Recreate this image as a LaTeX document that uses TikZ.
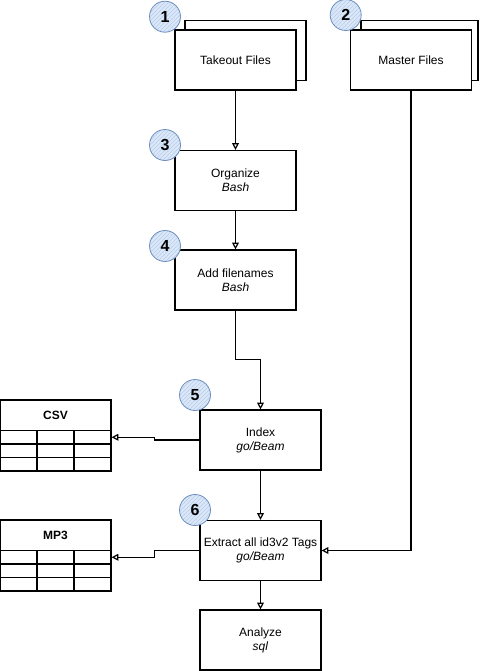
\documentclass[tikz,border=0pt]{standalone}
\usepackage{fontspec}
\setmainfont{Liberation Sans}
\usetikzlibrary{arrows.meta,patterns}
\definecolor{badgefill}{HTML}{DAE8FC}
\definecolor{badgeline}{HTML}{6C8EBF}
\tikzset{
  stepbox/.style={draw,line width=0.9pt,fill=white,minimum width=90.75pt,minimum height=45pt,inner sep=1pt,align=center,font=\fontsize{9}{10.5}\selectfont},
  badge/.style={circle,draw=badgeline,line width=0.6pt,preaction={fill=badgefill},pattern=north east lines,pattern color=badgeline!45,minimum size=23.25pt,inner sep=0pt,font=\bfseries\fontsize{12}{14}\selectfont},
  tablehead/.style={draw,line width=0.9pt,minimum width=83.25pt,minimum height=22.875pt,inner sep=0pt,font=\bfseries\fontsize{9}{10.5}\selectfont},
  tablecell/.style={draw,line width=0.9pt,minimum width=27.75pt,minimum height=10.125pt,inner sep=0pt},
  flow/.style={line width=0.9pt,-{Triangle[open,length=5pt,width=5pt]}},
}
\begin{document}
\begin{tikzpicture}[x=0.75pt,y=-0.75pt] %Flujo de etiquetas id3v2
            \useasboundingbox (0,0) rectangle (481,671);

            \node[stepbox,minimum width=90.75pt] (takeoutback) at (245.5,50.5) {};
            \node[stepbox,minimum width=87.75pt] (masterback) at (419.5,50.5) {};
            \node[stepbox] (takeout) at (235.5,60) {Takeout Files};
            \node[stepbox] (master) at (411,60) {Master Files};
            \node[stepbox] (organize) at (235.5,180.5) {Organize\\\textit{Bash}};
            \node[stepbox] (addfn) at (235.5,280) {Add filenames\\\textit{Bash}};
            \node[stepbox] (index) at (260.5,440) {Index\\\textit{go/Beam}};
            \node[stepbox] (extract) at (260.5,550.5) {Extract all id3v2 Tags\\\textit{go/Beam}};
            \node[stepbox] (analyze) at (260.5,640) {Analyze\\\textit{sql}};

            \node[tablehead] (csv) at (55.5,415.25) {CSV};
            \node[tablehead] (mp3) at (55.5,535.25) {MP3};
            \foreach \t/\y in {csv/430.5,mp3/550.5}
                \foreach \r in {1,2,3}
                    \foreach \c in {1,2,3}
                        \node[tablecell] (\t-\r-\c) at ({(\c-0.5)*37},{\y+(\r-0.5)*13.5}) {};

            \draw[flow] (takeout) -- (organize);
            \draw[flow] (organize) -- (addfn);
            \draw[flow] (addfn.south) -- ++(0,49) -| (index.north);
            \draw[flow] (index) -- (extract);
            \draw[flow] (extract) -- (analyze);
            \draw[flow] (master.south) |- (extract.east);
            \draw[flow] (index.west) -- ++(-45,0) |- (csv-1-3.east);
            \draw[flow] (extract.west) -- ++(-45,0) |- (mp3-1-3.east);

            \node[badge] (b1) at (165,16.7) {1};
            \node[badge] (b2) at (345.7,15) {2};
            \node[badge] (b3) at (165,145) {3};
            \node[badge] (b4) at (165,246) {4};
            \node[badge] (b5) at (195,395) {5};
            \node[badge] (b6) at (195,510) {6};
        \end{tikzpicture}
\end{document}
